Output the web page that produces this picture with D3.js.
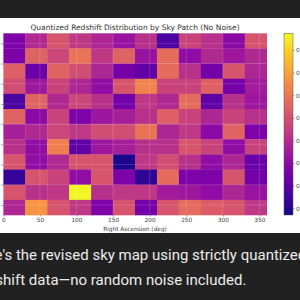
<!DOCTYPE html>
<html>
<head>
<meta charset="utf-8">
<script src="https://cdn.jsdelivr.net/npm/d3@7"></script>
<style>
	body { margin: 0; background: #212121; overflow: hidden; }
	svg { display: block; }
	.axis text { font-family: 'DejaVu Sans', sans-serif; fill: #444; }
	.axis path { display: none; }
	.axis line { stroke: #555; stroke-width: 0.6; }
</style>
</head>
<body>
<div id="chart"></div>
<script>

var raBins = [0, 30, 60, 90, 120, 150, 180, 210, 240, 270, 300, 330]
var decBins = [90, 75, 60, 45, 30, 15, 0, -15, -30, -45, -60, -75]
var raTicks = [0, 50, 100, 150, 200, 250, 300, 350]
var decTicks = [-80, -60, -40, -20, 0, 20, 40, 60, 80]
var cbTicks = [0.1, 0.2, 0.3, 0.4, 0.5, 0.6, 0.7, 0.8]
var zRange = [0.07, 0.874]

// mean redshift per patch, one row per declination bin (top row first)
var row1 = [0.27, 0.39, 0.51, 0.43, 0.38, 0.33, 0.41, 0.17, 0.46, 0.41, 0.30, 0.51]
var row2 = [0.27, 0.55, 0.47, 0.59, 0.43, 0.55, 0.33, 0.57, 0.31, 0.39, 0.34, 0.39]
var row3 = [0.54, 0.23, 0.55, 0.49, 0.38, 0.25, 0.21, 0.57, 0.41, 0.25, 0.51, 0.38]
var row4 = [0.49, 0.34, 0.46, 0.38, 0.31, 0.51, 0.63, 0.46, 0.46, 0.54, 0.25, 0.35]
var row5 = [0.17, 0.55, 0.39, 0.47, 0.41, 0.25, 0.43, 0.39, 0.57, 0.21, 0.41, 0.34]
var row6 = [0.55, 0.30, 0.46, 0.27, 0.34, 0.36, 0.41, 0.54, 0.46, 0.38, 0.46, 0.41]
var row7 = [0.36, 0.39, 0.47, 0.43, 0.49, 0.49, 0.59, 0.38, 0.43, 0.30, 0.55, 0.27]
var row8 = [0.41, 0.31, 0.62, 0.21, 0.34, 0.36, 0.41, 0.41, 0.51, 0.46, 0.31, 0.46]
var row9 = [0.51, 0.31, 0.39, 0.51, 0.51, 0.09, 0.43, 0.49, 0.41, 0.31, 0.38, 0.23]
var row10 = [0.13, 0.51, 0.46, 0.31, 0.51, 0.27, 0.12, 0.57, 0.27, 0.27, 0.51, 0.25]
var row11 = [0.51, 0.41, 0.43, 0.87, 0.41, 0.43, 0.43, 0.35, 0.34, 0.31, 0.38, 0.33]
var row12 = [0.38, 0.67, 0.51, 0.43, 0.27, 0.51, 0.25, 0.51, 0.57, 0.53, 0.51, 0.43]
var rows = [row1, row2, row3, row4, row5, row6, row7, row8, row9, row10, row11, row12]

var title = 'Quantized Redshift Distribution by Sky Patch (No Noise)'
var xLabel = 'Right Ascension (deg)'
var chatLines = ["Here's the revised sky map using strictly quantized",
	'redshift data\u2014no random noise included.']

var W = 300, H = 300

var svg = d3.select('#chart').append('svg')
	.attr('width', W)
	.attr('height', H)

svg.append('rect')
	.attr('width', W)
	.attr('height', H)
	.attr('fill', '#212121')

svg.append('rect')
	.attr('y', 18)
	.attr('width', W)
	.attr('height', 215)
	.attr('fill', '#ffffff')

var x = d3.scaleLinear().domain([0, 360]).range([3.3, 266.7])
var y = d3.scaleLinear().domain([90, -90]).range([33.3, 215])
var color = d3.scaleSequential(d3.interpolatePlasma).domain(zRange)

var cells = []
rows.forEach(function (r, i) {
	r.forEach(function (v, j) {
		cells.push({ ra: raBins[j], dec: decBins[i], z: v })
	})
})

var plot = svg.append('g')

plot.selectAll('rect.cell')
	.data(cells)
	.enter().append('rect')
	.attr('class', 'cell')
	.attr('x', function (d) { return x(d.ra) })
	.attr('y', function (d) { return y(d.dec) })
	.attr('width', function (d) { return x(d.ra + 30) - x(d.ra) + 0.3 })
	.attr('height', function (d) { return y(d.dec - 15) - y(d.dec) + 0.3 })
	.attr('fill', function (d) { return color(d.z) })

/* faint grid over the image */
plot.selectAll('line.vgrid')
	.data(raTicks)
	.enter().append('line')
	.attr('x1', function (d) { return x(d) })
	.attr('x2', function (d) { return x(d) })
	.attr('y1', y(90))
	.attr('y2', y(-90))
	.attr('stroke', '#fff')
	.attr('stroke-opacity', 0.22)
	.attr('stroke-width', 0.7)

plot.selectAll('line.hgrid')
	.data(decTicks)
	.enter().append('line')
	.attr('x1', x(0))
	.attr('x2', x(360))
	.attr('y1', function (d) { return y(d) })
	.attr('y2', function (d) { return y(d) })
	.attr('stroke', '#fff')
	.attr('stroke-opacity', 0.22)
	.attr('stroke-width', 0.7)

var xAxisG = svg.append('g')
	.attr('class', 'axis')
	.attr('transform', 'translate(0,' + y(-90) + ')')
	.call(d3.axisBottom(x).tickValues(raTicks).tickSize(1.5).tickPadding(1))
xAxisG.selectAll('text').attr('font-size', 5.8)

var yAxisG = svg.append('g')
	.attr('class', 'axis')
	.attr('transform', 'translate(' + x(0) + ',0)')
	.call(d3.axisLeft(y).tickValues(decTicks).tickSize(2).tickPadding(1))
yAxisG.selectAll('text').attr('font-size', 5.8)

svg.append('text')
	.attr('x', (x(0) + x(360)) / 2)
	.attr('y', 30)
	.attr('text-anchor', 'middle')
	.attr('font-family', 'DejaVu Sans, sans-serif')
	.attr('font-size', 7.5)
	.attr('fill', '#333')
	.text(title)

svg.append('text')
	.attr('x', (x(0) + x(360)) / 2)
	.attr('y', 230.5)
	.attr('text-anchor', 'middle')
	.attr('font-family', 'DejaVu Sans, sans-serif')
	.attr('font-size', 5.8)
	.attr('fill', '#444')
	.text(xLabel)

/* colour bar */
var cb = d3.scaleLinear().domain(zRange).range([215, 33.3])
var grad = svg.append('defs').append('linearGradient')
	.attr('id', 'plasma')
	.attr('x1', 0).attr('y1', 1)
	.attr('x2', 0).attr('y2', 0)
grad.selectAll('stop')
	.data(d3.range(0, 1.001, 0.05))
	.enter().append('stop')
	.attr('offset', function (d) { return d })
	.attr('stop-color', function (d) { return d3.interpolatePlasma(d) })

svg.append('rect')
	.attr('x', 284)
	.attr('y', 33.3)
	.attr('width', 9)
	.attr('height', 215 - 33.3)
	.attr('fill', 'url(#plasma)')
	.attr('stroke', '#555')
	.attr('stroke-width', 0.5)

var cbAxisG = svg.append('g')
	.attr('class', 'axis')
	.attr('transform', 'translate(293,0)')
	.call(d3.axisRight(cb).tickValues(cbTicks).tickFormat(d3.format('.1f')).tickSize(1.5).tickPadding(1.5))
cbAxisG.selectAll('text').attr('font-size', 5.8)

/* chat text below the image, cropped at the left edge */
svg.selectAll('text.chat')
	.data(chatLines)
	.enter().append('text')
	.attr('class', 'chat')
	.attr('x', function (d, i) { return i == 0 ? -29 : -26 })
	.attr('y', function (d, i) { return 260 + i * 25 })
	.attr('font-family', 'Roboto, sans-serif')
	.attr('font-size', 15)
	.attr('fill', '#ececec')
	.text(function (d) { return d })

</script>
</body>
</html>
